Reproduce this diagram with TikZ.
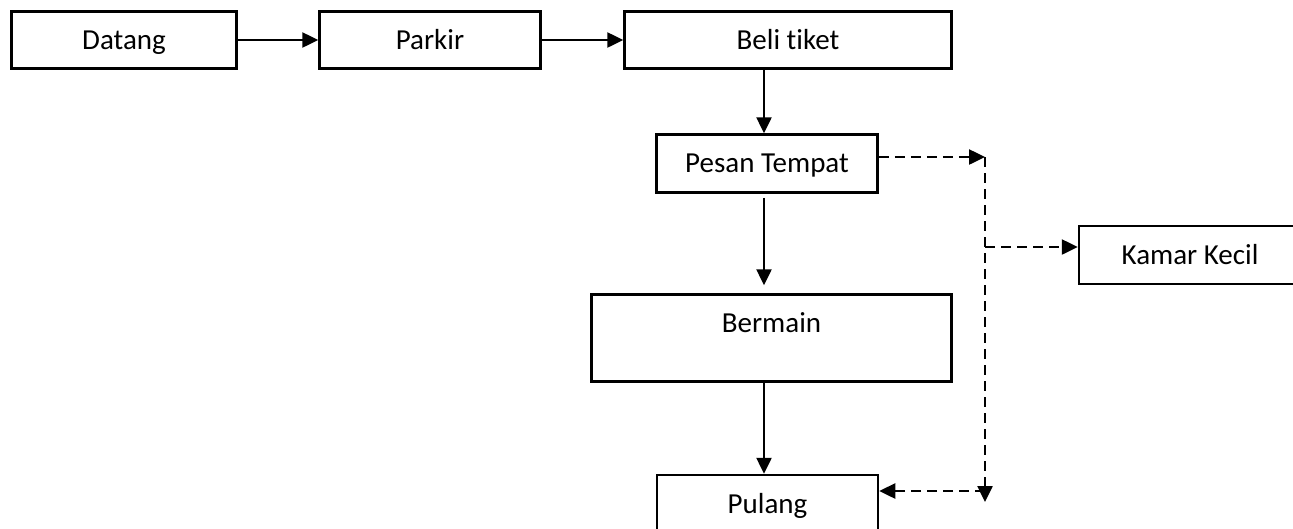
\documentclass[tikz,border=0pt]{standalone}
\usepackage{fontspec}
\setmainfont[Ligatures=NoCommon]{Carlito}
\usetikzlibrary{arrows.meta}
\tikzset{
  box/.style={draw, line width=2.5pt, rectangle, inner sep=0pt, minimum height=57pt,
    text height=18.5pt, text depth=0pt, font=\fontsize{29}{33}\selectfont},
  conn/.style={line width=2.5pt, -{Triangle[length=16pt,width=15pt]}},
  dconn/.style={conn, dash pattern=on 10pt off 6pt},
}
\begin{document}
\begin{tikzpicture}[x=1pt,y=-1pt]
\useasboundingbox (0,0) rectangle (1293,528);
\clip (0,0) rectangle (1293,528);
\node[box, minimum width=225pt] (datang) at (124,40) {Datang};
\node[box, minimum width=221pt] (parkir) at (430,40) {Parkir};
\node[box, minimum width=327pt] (beli) at (788,40) {Beli tiket};
\node[box, minimum width=221pt, minimum height=58pt] (pesan) at (767,163.5) {Pesan Tempat};
\node[box, minimum width=360pt, minimum height=87pt] (bermain) at (771.5,338) {\raisebox{15pt}[18.5pt][0pt]{Bermain}};
\node[box, minimum width=221pt, minimum height=58pt] (pulang) at (767.5,504) {Pulang};
\node[box, minimum width=222pt, minimum height=58pt] (kamar) at (1190,255) {Kamar Kecil};
\coordinate (ax) at (764,0);
\coordinate (c1) at (985,157);
\coordinate (c2) at (985,502);
\coordinate (c3) at (985,247);
\coordinate (c4) at (985,491);
\draw[conn] (datang.east) -- (parkir.west);
\draw[conn] (parkir.east) -- (beli.west);
\draw[conn] (ax |- beli.south) -- (ax |- pesan.north);
\draw[conn, shorten <=4pt, shorten >=8pt] (ax |- pesan.south) -- (ax |- bermain.north);
\draw[conn] (ax |- bermain.south) -- (ax |- pulang.north);
\draw[dconn] (pesan.east |- c1) -- (c1);
\draw[dconn] (c1) -- (c2);
\draw[dconn] (c3) -- (kamar.west |- c3);
\draw[dconn] (c4) -- (pulang.east |- c4);
\end{tikzpicture}
\end{document}
